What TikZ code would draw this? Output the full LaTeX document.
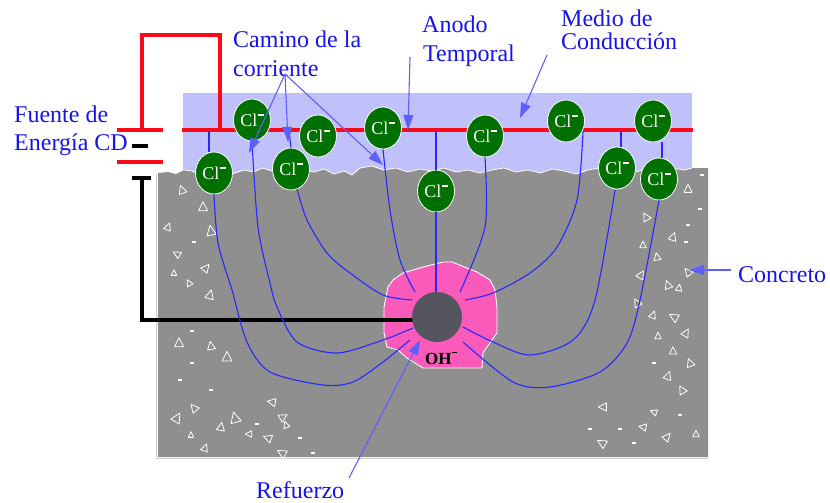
\documentclass[tikz,border=0pt]{standalone}
\usepackage{fontspec}
\setmainfont{LiberationSerif}[Extension=.ttf,UprightFont=*-Regular,BoldFont=*-Bold,
  ItalicFont=*-Italic,BoldItalicFont=*-BoldItalic]
\usetikzlibrary{shapes.geometric,arrows.meta}

\definecolor{layerblue}{RGB}{192,192,250}
\definecolor{concrete}{RGB}{143,143,143}
\definecolor{halo}{RGB}{250,90,185}
\definecolor{steel}{RGB}{85,85,96}
\definecolor{iongreen}{RGB}{0,112,0}
\definecolor{wirered}{RGB}{250,10,25}
\definecolor{currentblue}{RGB}{40,40,255}
\definecolor{labelblue}{RGB}{20,20,235}
\definecolor{arrowblue}{RGB}{95,95,255}

\newcommand\clion{Cl\kern0.04em\rule[0.58em]{0.3em}{0.08em}}

\begin{document}
\begin{tikzpicture}[x=1pt,y=-1pt,
  lbl/.style={text=labelblue,font=\fontsize{24}{28}\selectfont,inner sep=0pt,anchor=base west},
  pointer/.style={draw=arrowblue,line width=1.1pt,-{Triangle[width=10pt,length=15pt]}},
  ion/.style={ellipse,fill=iongreen,draw=white,line width=0.8pt,minimum width=37pt,
    minimum height=42pt,inner sep=0pt,text=white,font=\fontsize{18}{18}\selectfont},
  current/.style={draw=currentblue,line width=1.1pt},
  redwire/.style={draw=wirered,line width=3.8pt},
  blackwire/.style={draw=black,line width=4pt},
  agg/.style={draw=white,line width=0.8pt,line join=round},
]
\useasboundingbox (0,0) rectangle (830,503);

% conduction medium layer
\fill[layerblue] (183,93) rectangle (692,180);

% concrete block with rough top surface
\fill[concrete] (158,173) -- (168,172) -- (176,174) -- (184,170) -- (192,171) -- (200,175)
  -- (210,173) -- (222,171) -- (232,174) -- (244,170) -- (254,172) -- (262,168) -- (272,171)
  -- (282,169) -- (292,173) -- (304,170) -- (314,172) -- (324,169) -- (334,174) -- (344,171)
  -- (352,175) -- (360,168) -- (372,166) -- (384,170) -- (396,168) -- (408,172) -- (420,169)
  -- (432,171) -- (444,168) -- (456,172) -- (468,170) -- (480,173) -- (492,170) -- (504,168)
  -- (516,172) -- (528,170) -- (540,173) -- (552,169) -- (564,171) -- (576,174) -- (588,170)
  -- (600,168) -- (612,172) -- (624,169) -- (636,172) -- (648,168) -- (660,171) -- (672,168)
  -- (684,170) -- (692,168) -- (708,168) -- (708,457) -- (158,457) -- cycle;
\draw[white,line width=0.8pt] (183,170) -- (184,170) -- (192,171) -- (200,175)
  -- (210,173) -- (222,171) -- (232,174) -- (244,170) -- (254,172) -- (262,168) -- (272,171)
  -- (282,169) -- (292,173) -- (304,170) -- (314,172) -- (324,169) -- (334,174) -- (344,171)
  -- (352,175) -- (360,168) -- (372,166) -- (384,170) -- (396,168) -- (408,172) -- (420,169)
  -- (432,171) -- (444,168) -- (456,172) -- (468,170) -- (480,173) -- (492,170) -- (504,168)
  -- (516,172) -- (528,170) -- (540,173) -- (552,169) -- (564,171) -- (576,174) -- (588,170)
  -- (600,168) -- (612,172) -- (624,169) -- (636,172) -- (648,168) -- (660,171) -- (672,168)
  -- (684,170) -- (692,168);
\draw[black!20,line width=0.8pt] (156.5,174) -- (156.5,458.5) -- (708,458.5);

% aggregate fragments
\foreach \x/\y/\r/\s in {182/190/20/1, 203/207/0/1.1, 168/227/-20/0.9, 211/231/10/1.2,
  177/254/60/0.9, 206/268/-40/1, 174/273/0/0.7, 189/283/30/0.8, 210/295/-15/1.1,
  179/343/0/1.1, 211/346/10/1, 227/357/0/1.2, 194/408/40/1, 177/418/-30/1.2,
  235/418/15/1.3, 221/427/-10/1, 272/402/80/1, 283/417/-60/1, 191/435/0/0.7,
  249/434/90/0.8, 268/438/70/1, 205/448/-20/0.9, 282/453/60/1.1, 286/425/20/0.8,
  688/189/0/1, 646/217/30/1, 673/237/-20/1, 643/245/0/0.8, 657/257/10/0.9,
  688/272/40/1, 641/275/-30/1, 668/285/20/1, 679/288/-10/0.8, 637/303/30/1,
  653/315/-20/0.9, 674/317/60/1.1, 686/333/-30/1, 658/336/0/0.8, 673/351/0/0.9,
  690/363/20/1, 668/376/-20/1, 682/390/30/1, 603/407/90/1, 654/412/70/0.8,
  643/427/80/0.9, 667/437/-40/1, 696/434/0/0.8, 602/443/60/1.1}
  \draw[agg,shift={(\x,\y)},rotate=\r,scale=1.35*\s] (-3,2.5) -- (3,2.5) -- (0,-3.5) -- cycle;
\foreach \x/\y in {194/242, 192/331, 192/363, 180/380, 211/390, 257/424, 300/438,
  313/453, 702/175, 700/209, 688/225, 686/242, 654/363, 680/415, 590/429, 620/429, 634/443}
  \fill[white] (\x-1.8,\y-1.2) rectangle (\x+1.8,\y+1.2);

% hydroxide zone round the reinforcement
\draw[white,fill=halo,line width=0.9pt] (403,273) -- (423,267) -- (443,262) -- (452,262)
  -- (477,272) -- (490,280) -- (495,290) -- (497,307) -- (497,333) -- (487,347) -- (483,353)
  -- (482,368) -- (457,368) -- (423,368) -- (407,358) -- (398,350) -- (387,347) -- (384,333)
  -- (384,307) -- (388,287) -- (393,280) -- cycle;

% anode and power supply wiring
\coordinate (anL) at (182,130);
\coordinate (anR) at (693,130);
\coordinate (anJ) at (220,130);
\coordinate (wtop) at (220,35);
\coordinate (bplus) at (142,130);
\coordinate (bminus) at (142,178);
\coordinate (wireend) at (414,320);
\draw[redwire] (anL) -- (anR);
\draw[redwire,line cap=rect] (bplus) |- (wtop) -- (anJ);
\draw[redwire] (117,130) -- (163,130);
\draw[redwire] (117,162) -- (163,162);
\draw[blackwire] (132,146) -- (148,146);
\draw[blackwire] (132,178) -- (151,178);
\draw[blackwire] (bminus) |- (wireend);

% reinforcing bar
\node[circle,fill=steel,minimum size=50pt,inner sep=0pt] (bar) at (437,317) {};
\node[font=\bfseries\fontsize{17}{17}\selectfont,inner sep=0pt,anchor=base west] (oh)
  at (425,364) {OH\kern0.03em\rule[0.62em]{0.3em}{0.08em}};

% chloride ions
\node[ion] (cl1) at (252,120) {\clion};
\node[ion] (cl2) at (214,173) {\clion};
\node[ion] (cl3) at (318,136) {\clion};
\node[ion] (cl4) at (291,169) {\clion};
\node[ion] (cl5) at (383,128) {\clion};
\node[ion] (cl6) at (436,191) {\clion};
\node[ion] (cl7) at (485,136) {\clion};
\node[ion] (cl8) at (566,121) {\clion};
\node[ion] (cl9) at (653,121) {\clion};
\node[ion] (cl10) at (617,168) {\clion};
\node[ion] (cl11) at (659,179) {\clion};

% current paths from the anode to the bar
\draw[current] (209,131) -- (cl2.north -| 209,0);
\draw[current] (289,131) -- (cl4.north);
\draw[current] (436,131) -- (cl6.north);
\draw[current] (621,131) -- (cl10.north -| 621,0);
\draw[current] (cl9.south -| 662,0) -- (cl11.north -| 662,0);
\draw[current] plot[smooth,tension=0.5] coordinates {(cl2.south) (218,243) (232,290)
  (247,342) (270,372) (323,385) (353,382) (383,362) (410,340)};
\draw[current] plot[smooth,tension=0.5] coordinates {(cl1.south) (258,227) (270,283)
  (277,307) (297,342) (337,353) (383,340) (413,328)};
\draw[current] plot[smooth,tension=0.5] coordinates {(297,189) (307,220) (327,253)
  (350,273) (383,295) (412,300)};
\draw[current] plot[smooth,tension=0.5] coordinates {(cl5.south) (390,210) (400,260) (415,292)};
\draw[current] (cl6.south) -- (436,292);
\draw[current] plot[smooth,tension=0.5] coordinates {(cl7.south) (485,227) (460,292)};
\draw[current] plot[smooth,tension=0.5] coordinates {(583,132) (577,200) (557,247)
  (530,273) (493,293) (465,300)};
\draw[current] plot[smooth,tension=0.5] coordinates {(615,190) (595,300) (573,340)
  (530,355) (493,342) (463,327)};
\draw[current] plot[smooth,tension=0.5] coordinates {(cl11.south) (640,300) (627,343)
  (600,372) (550,387) (513,382) (463,342)};

% labels
\node[lbl] (src1) at (14,122) {Fuente de};
\node[lbl] (src2) at (14,150) {Energía CD};
\node[lbl] (path1) at (233,48) {Camino de la};
\node[lbl] (path2) at (233,77) {corriente};
\node[lbl] (anode1) at (422,33) {Anodo};
\node[lbl] (anode2) at (423,62) {Temporal};
\node[lbl] (med1) at (561,27) {Medio de};
\node[lbl] (med2) at (561,49) {Conducción};
\node[lbl] (conc) at (738,282) {Concreto};
\node[lbl] (reinf) at (256,498) {Refuerzo};

% label pointers
\coordinate (pathtail) at (285,74);
\coordinate (tipA) at (249,153);
\coordinate (tipB) at (288,142);
\coordinate (tipC) at (383,165);
\draw[pointer] (pathtail) -- (tipA);
\draw[pointer] (pathtail) -- (tipB);
\draw[pointer] (pathtail) -- (tipC);
\coordinate (anodetail) at (410,57);
\coordinate (anodetip) at (408,130);
\draw[pointer] (anodetail) -- (anodetip);
\coordinate (medtail) at (547,55);
\coordinate (medtip) at (520,118);
\draw[pointer] (medtail) -- (medtip);
\coordinate (conctail) at (731,270);
\coordinate (conctip) at (689,270);
\draw[pointer] (conctail) -- (conctip);
\coordinate (reinftail) at (349,478);
\coordinate (reinftip) at (420,340);
\draw[pointer] (reinftail) -- (reinftip);
\end{tikzpicture}
\end{document}
